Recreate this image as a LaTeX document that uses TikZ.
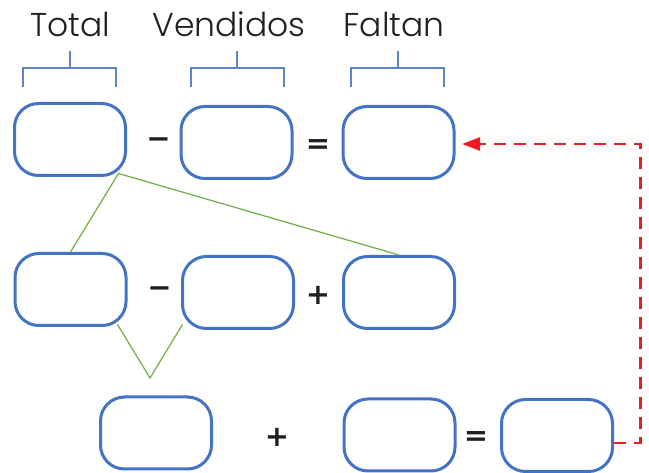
\documentclass[tikz,border=0pt]{standalone}
\usepackage{fontspec}
\setmainfont{Poppins}[UprightFont=* Light, BoldFont=* SemiBold]
\newfontfamily\opfont{DejaVu Sans}
\usetikzlibrary{calc,arrows.meta}
\definecolor{boxblue}{HTML}{4472C4}
\definecolor{brblue}{HTML}{5B86CC}
\definecolor{lgreen}{HTML}{70AD47}
\definecolor{dred}{HTML}{EE1C25}
\definecolor{ink}{HTML}{231F20}
\tikzset{
  answerbox/.style={draw=boxblue, line width=3pt, rounded corners=24pt,
    minimum width=111pt, minimum height=72pt, inner sep=0pt},
  oper/.style={text=ink, font=\opfont\bfseries\fontsize{29}{29}\selectfont, inner sep=0pt},
  heading/.style={text=ink, font=\fontsize{33}{33}\selectfont, inner sep=0pt, anchor=base},
  bracketline/.style={draw=brblue, line width=2pt},
  linkline/.style={draw=lgreen, line width=1.2pt},
  backarrow/.style={draw=dred, line width=2.5pt, dash pattern=on 12pt off 8pt,
    -{Triangle[length=18pt,width=13pt]}},
}
\begin{document}
\begin{tikzpicture}[x=1pt,y=-1pt]
\useasboundingbox (0,0) rectangle (649,473);
% headings
\node[heading] (tTotal) at (70,37) {Total};
\node[heading] (tVend) at (229,37) {Vendidos};
\node[heading] (tFalt) at (394,37) {Faltan};
% brackets
\foreach \cx in {69.5,237,397.5}{
  \draw[bracketline] (\cx-46.5,87) -- (\cx-46.5,68) -- (\cx+46.5,68) -- (\cx+46.5,87);
  \draw[bracketline] (\cx,51) -- (\cx,68);
}
% row 1
\node[answerbox] (A) at (70,139.5) {};
\node[answerbox] (B) at (236.5,142.5) {};
\node[answerbox] (C) at (398.5,142.5) {};
\node[oper] (m1) at (158.5,143) {\char"2212};
\node[oper] (e1) at (318,147) {=};
% row 2
\node[answerbox] (D) at (70.5,289.5) {};
\node[answerbox] (E) at (238,292.5) {};
\node[answerbox] (F) at (399,292.5) {};
\node[oper] (m2) at (159.5,292) {\char"2212};
\node[oper] (p2) at (318,295) {+};
% row 3
\node[answerbox] (G) at (156,433) {};
\node[answerbox] (H) at (399.5,435) {};
\node[answerbox] (I) at (557,435.5) {};
\node[oper] (p3) at (277,437) {+};
\node[oper] (e3) at (476,439) {=};
% green links
\coordinate (Acorner) at ($(A.south east)+(-8.5,-3.5)$);
\draw[linkline] (Acorner) -- (D.north);
\draw[linkline] (Acorner) -- (F.north);
\coordinate (vtip) at (150,378);
\draw[linkline] ($(D.south east)+(-10,-2.5)$) -- (vtip) -- ($(E.south west)+(1.5,-5.5)$);
% red dashed return arrow
\draw[backarrow] ($(I.east)+(0,7.5)$) -- ++(26.5,0) |- ($(C.east)+(6.5,1.5)$);
\end{tikzpicture}
\end{document}
